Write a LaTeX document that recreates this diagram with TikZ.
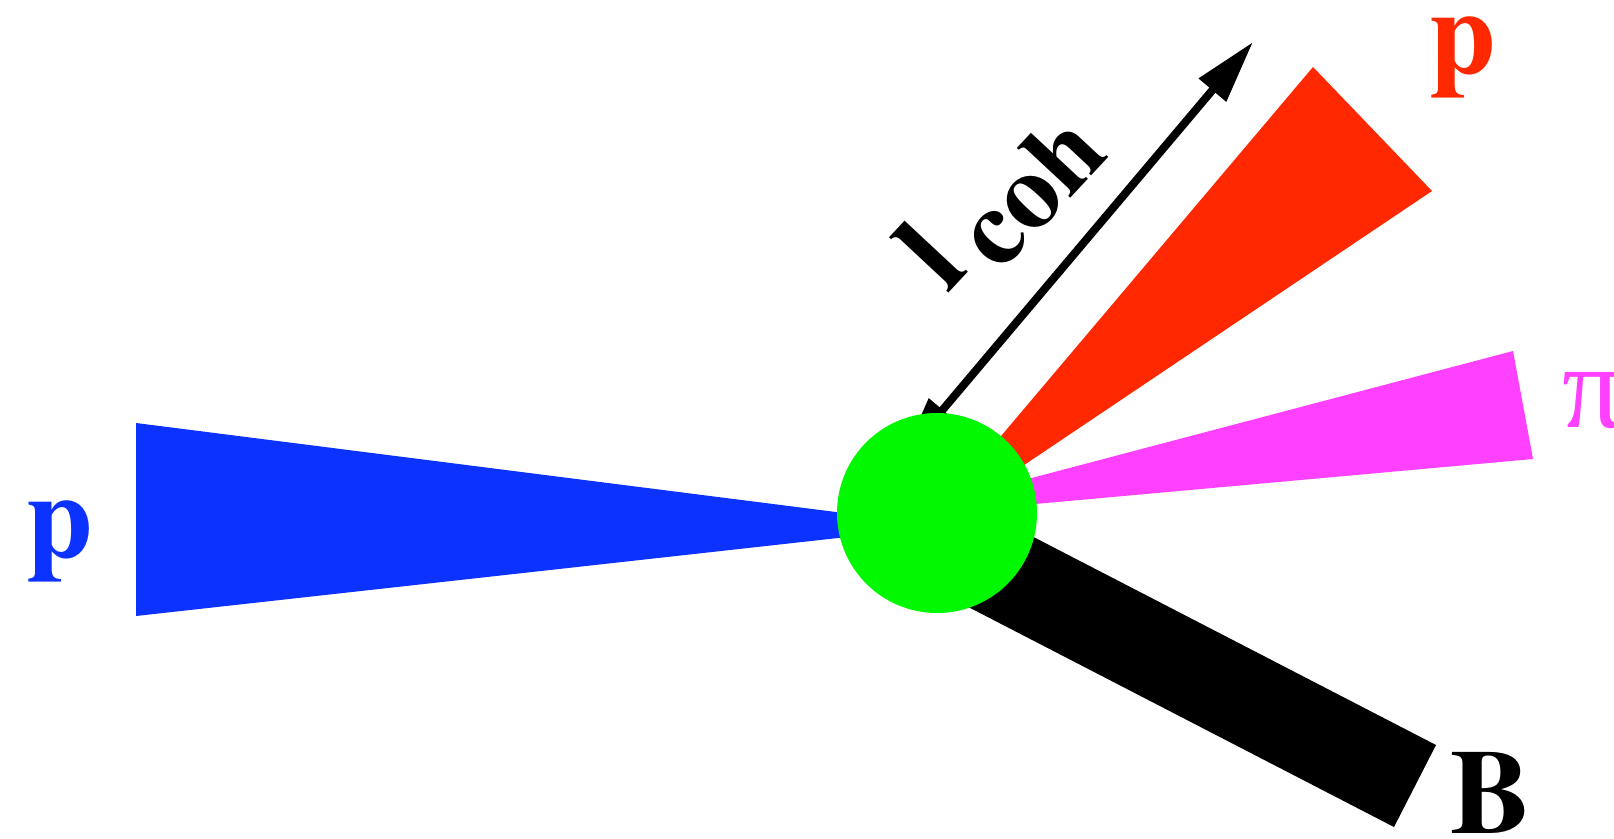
\documentclass[tikz,border=0pt]{standalone}
\usepackage{fontspec}
\setmainfont{texgyretermes}[Extension=.otf, UprightFont=*-regular, BoldFont=*-bold, ItalicFont=*-italic, BoldItalicFont=*-bolditalic]
\newfontfamily\pifont{Liberation Serif}
\usetikzlibrary{arrows.meta}
\definecolor{cblue}{RGB}{12,50,255}
\definecolor{cred}{RGB}{255,40,0}
\definecolor{cmag}{RGB}{255,64,255}
\definecolor{cgreen}{RGB}{0,248,0}
\tikzset{
  lab/.style={font=\fontsize{120}{120}\selectfont\bfseries, inner sep=0pt, anchor=base west},
  bigtip/.tip={Triangle[length=63pt,width=34pt]}
}
\begin{document}
\begin{tikzpicture}[x=1pt,y=-1pt]
\useasboundingbox (0,0) rectangle (1614,838);
\clip (0,0) rectangle (1614,838);
% coordinates
\coordinate (bA) at (136,423);
\coordinate (bB) at (136,616);
\coordinate (bX) at (946,526);
\coordinate (rA) at (1313,67);
\coordinate (rB) at (1432,191);
\coordinate (rX) at (914,539);
\coordinate (mA) at (1513,351);
\coordinate (mB) at (1533,459);
\coordinate (mX) at (880,518);
\coordinate (kA) at (960,499);
\coordinate (kB) at (1436,745);
\coordinate (kC) at (1394,827);
\coordinate (kD) at (918,581);
\coordinate (aL) at (902,458);
\coordinate (aU) at (1253,42);
% cones
\fill[cblue] (bA) -- (bX) -- (bB) -- cycle;
\fill[cred] (rA) -- (rB) -- (rX) -- cycle;
\fill[cmag] (mA) -- (mB) -- (mX) -- cycle;
\fill[black] (kA) -- (kB) -- (kC) -- (kD) -- cycle;
% arrow
\draw[line width=8pt, bigtip-bigtip] (aL) -- (aU);
% vertex
\node[circle, fill=cgreen, minimum size=200pt, inner sep=0pt] (vtx) at (937,513) {};
% labels
\node[lab, text=cblue] (pin) at (26,557) {p};
\node[lab, text=cred] (pout) at (1429,73) {p};
\node[lab, text=black] (bout) at (1450,833) {B};
\node[inner sep=0pt, anchor=base west, text=cmag, font=\fontsize{120}{120}\selectfont\pifont] (piout) at (1562,427) {π};
\node[lab, rotate=47] (lcoh) at (947,295) {l\kern18pt\raisebox{-24pt}{\fontsize{108}{108}\selectfont coh}};
\end{tikzpicture}
\end{document}
